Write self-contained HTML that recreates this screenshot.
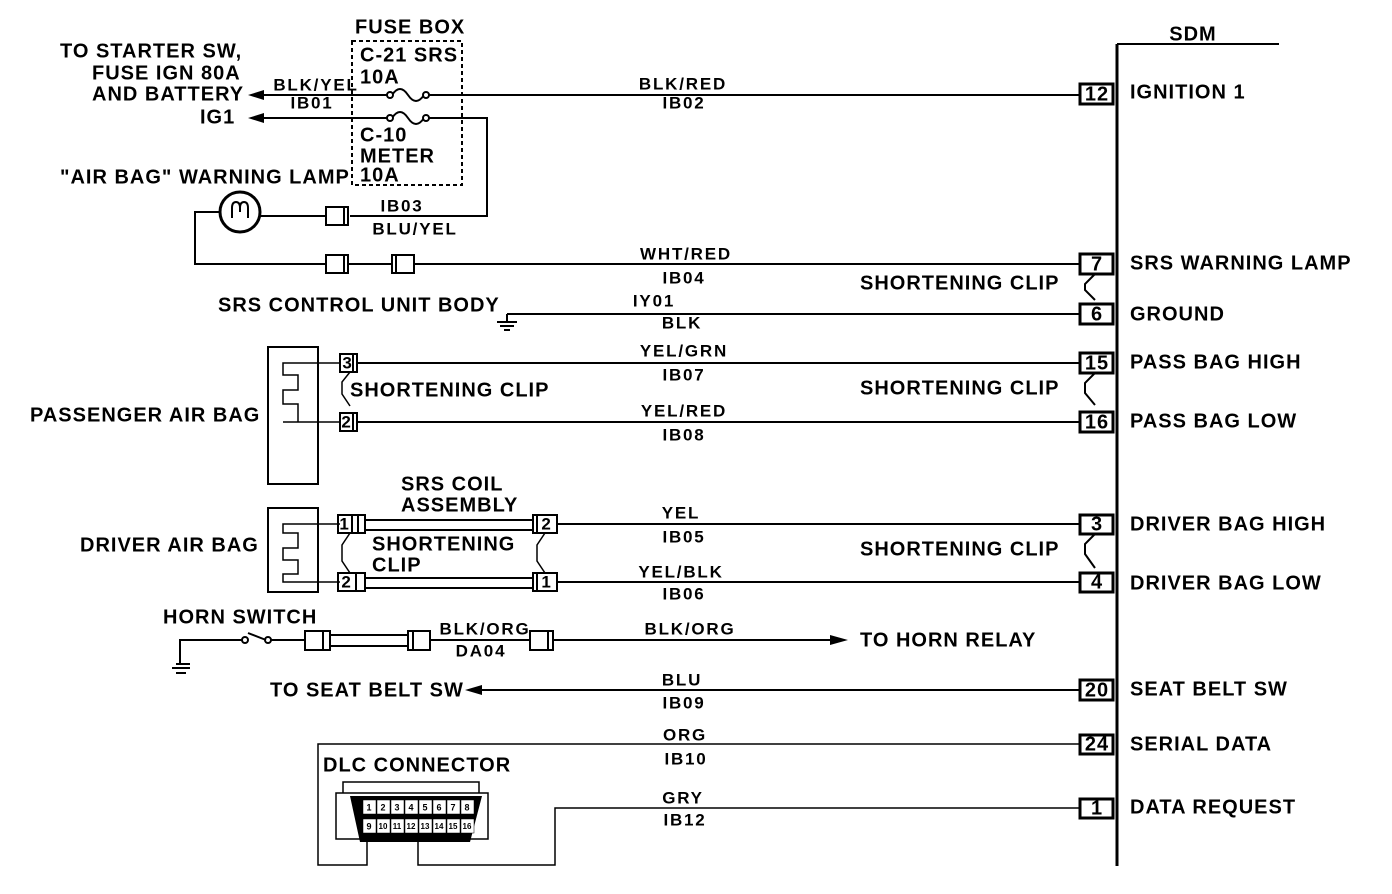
<!DOCTYPE html>
<html><head><meta charset="utf-8"><style>
html,body{margin:0;padding:0;background:#fff}
svg{display:block}
text{font-family:"Liberation Sans",Arial,sans-serif;font-weight:bold;font-size:20px;letter-spacing:1px;fill:#000;dominant-baseline:middle}
.s{font-size:17px;letter-spacing:1.8px}
.e{text-anchor:end}
.m{text-anchor:middle}
.p{font-size:9px;letter-spacing:0}
.q{font-size:8px;letter-spacing:0}
</style></head><body>
<svg width="1392" height="894" viewBox="0 0 1392 894" xmlns="http://www.w3.org/2000/svg">
<g stroke="#000" stroke-width="2" fill="none">
<line x1="1117" y1="44" x2="1117" y2="866" stroke-width="3"/>
<line x1="1117" y1="44" x2="1279" y2="44"/>
<rect x="352" y="41" width="110" height="144" stroke-dasharray="4,3"/>
<line x1="262" y1="95" x2="388" y2="95"/>
<path d="M392 95 q8 -12 16 0 q8 12 16 0"/>
<line x1="428" y1="95" x2="1080" y2="95"/>
<circle cx="390" cy="95" r="3" fill="#fff"/><circle cx="426" cy="95" r="3" fill="#fff"/>
<line x1="262" y1="118" x2="388" y2="118"/>
<path d="M392 118 q8 -12 16 0 q8 12 16 0"/>
<circle cx="390" cy="118" r="3" fill="#fff"/><circle cx="426" cy="118" r="3" fill="#fff"/>
<polyline points="428,118 487,118 487,216 350,216"/>
<rect x="326" y="207" width="22" height="18"/><line x1="344" y1="207" x2="344" y2="225"/>
<line x1="326" y1="216" x2="260" y2="216"/>
<circle cx="240" cy="212" r="20" stroke-width="3"/>
<path d="M232 218 v-10 q0 -6 4 -6 q4 0 4 6 v4 M240 212 v-4 q0 -6 4 -6 q4 0 4 6 v10"/>
<polyline points="220,212 195,212 195,264 326,264"/>
<rect x="326" y="255" width="22" height="18"/><line x1="344" y1="255" x2="344" y2="273"/>
<line x1="348" y1="264" x2="392" y2="264"/>
<rect x="392" y="255" width="22" height="18"/><line x1="396" y1="255" x2="396" y2="273"/>
<line x1="414" y1="264" x2="1080" y2="264"/>
<g stroke-width="3">
<rect x="1080" y="84" width="33" height="20"/>
<rect x="1080" y="254" width="33" height="20"/>
<rect x="1080" y="304" width="33" height="20"/>
<rect x="1080" y="353" width="33" height="20"/>
<rect x="1080" y="412" width="33" height="20"/>
<rect x="1080" y="515" width="33" height="19"/>
<rect x="1080" y="573" width="33" height="19"/>
<rect x="1080" y="680" width="33" height="20"/>
<rect x="1080" y="735" width="33" height="19"/>
<rect x="1080" y="799" width="33" height="19"/>
</g>
<path d="M1095 274 l-10 10 v6 l10 10"/>
<path d="M1095 373 l-10 10 v10 l10 12"/>
<path d="M1095 534 l-10 10 v10 l10 14"/>
<line x1="507" y1="314" x2="1080" y2="314"/>
<line x1="507" y1="314" x2="507" y2="322"/>
<line x1="497" y1="322" x2="517" y2="322"/><line x1="500" y1="326" x2="514" y2="326"/><line x1="504" y1="330" x2="510" y2="330"/>
<rect x="268" y="347" width="50" height="137"/>
<polyline points="340,363 283,363 283,375 298,375 298,390 283,390 283,404 298,404 298,422 283,422 340,422" stroke-width="1.5"/>
<rect x="340" y="354" width="17" height="18"/><line x1="353" y1="354" x2="353" y2="372"/>
<rect x="340" y="413" width="17" height="18"/><line x1="353" y1="413" x2="353" y2="431"/>
<line x1="357" y1="363" x2="1080" y2="363"/>
<line x1="357" y1="422" x2="1080" y2="422"/>
<path d="M350 372 l-8 10 v12 l8 12" stroke-width="1.5"/>
<rect x="268" y="508" width="50" height="84"/>
<polyline points="340,524 283,524 283,533 298,533 298,548 283,548 283,560 298,560 298,574 283,574 283,582 340,582" stroke-width="1.5"/>
<rect x="338" y="515" width="27" height="18"/><line x1="352" y1="515" x2="352" y2="533"/><line x1="358" y1="515" x2="358" y2="533"/>
<rect x="338" y="573" width="27" height="18"/><line x1="356" y1="573" x2="356" y2="591"/>
<line x1="365" y1="520" x2="533" y2="520"/><line x1="365" y1="530" x2="533" y2="530"/>
<line x1="365" y1="578" x2="533" y2="578"/><line x1="365" y1="588" x2="533" y2="588"/>
<rect x="533" y="515" width="24" height="18"/><line x1="537" y1="515" x2="537" y2="533"/>
<rect x="533" y="573" width="24" height="18"/><line x1="537" y1="573" x2="537" y2="591"/>
<line x1="557" y1="524" x2="1080" y2="524"/>
<line x1="557" y1="582" x2="1080" y2="582"/>
<path d="M350 533 l-8 12 v16 l8 12" stroke-width="1.5"/>
<path d="M545 533 l-8 12 v16 l8 12" stroke-width="1.5"/>
<polyline points="180,664 180,640 242,640"/>
<line x1="176" y1="664" x2="190" y2="664"/><line x1="172" y1="668" x2="190" y2="668"/><line x1="176" y1="673" x2="186" y2="673"/>
<circle cx="245" cy="640" r="3" fill="#fff"/><circle cx="268" cy="640" r="3" fill="#fff"/>
<line x1="248" y1="633" x2="266" y2="640"/>
<line x1="271" y1="640" x2="305" y2="640"/>
<rect x="305" y="631" width="25" height="19"/><line x1="323" y1="631" x2="323" y2="650"/>
<line x1="330" y1="635" x2="408" y2="635"/><line x1="330" y1="646" x2="408" y2="646"/>
<rect x="408" y="631" width="22" height="19"/><line x1="413" y1="631" x2="413" y2="650"/>
<line x1="430" y1="640" x2="530" y2="640"/>
<rect x="530" y="631" width="23" height="19"/><line x1="548" y1="631" x2="548" y2="650"/>
<line x1="553" y1="640" x2="832" y2="640"/>
<line x1="478" y1="690" x2="1080" y2="690"/>
<polyline points="1080,744 318,744 318,865 367,865 367,820" stroke-width="1.5"/>
<polyline points="1080,808 555,808 555,865 418,865 418,820" stroke-width="1.5"/>
</g>
<g fill="#000">
<polygon points="248,95 264,90 264,100"/>
<polygon points="248,118 264,113 264,123"/>
<polygon points="848,640 830,635 830,645"/>
<polygon points="465,690 482,685 482,695"/>
</g>
<g stroke="#000" stroke-width="1.5" fill="#fff">
<rect x="343" y="782" width="136" height="12"/>
<rect x="336" y="793" width="152" height="46"/>
</g>
<polygon points="350,796 482,796 470,842 360,842" fill="#000"/>
<g fill="#fff" stroke="#000" stroke-width="0.5">
<rect x="363" y="800" width="13" height="14"/><rect x="377" y="800" width="13" height="14"/><rect x="391" y="800" width="13" height="14"/><rect x="405" y="800" width="13" height="14"/><rect x="419" y="800" width="13" height="14"/><rect x="433" y="800" width="13" height="14"/><rect x="447" y="800" width="13" height="14"/><rect x="461" y="800" width="13" height="14"/>
<rect x="363" y="819" width="13" height="14"/><rect x="377" y="819" width="13" height="14"/><rect x="391" y="819" width="13" height="14"/><rect x="405" y="819" width="13" height="14"/><rect x="419" y="819" width="13" height="14"/><rect x="433" y="819" width="13" height="14"/><rect x="447" y="819" width="13" height="14"/><rect x="461" y="819" width="13" height="14"/>
</g>
<text x="369" y="808" class="m p">1</text><text x="383" y="808" class="m p">2</text><text x="397" y="808" class="m p">3</text><text x="411" y="808" class="m p">4</text><text x="425" y="808" class="m p">5</text><text x="439" y="808" class="m p">6</text><text x="453" y="808" class="m p">7</text><text x="467" y="808" class="m p">8</text>
<text x="369" y="827" class="m p">9</text><text x="383" y="827" class="m q">10</text><text x="397" y="827" class="m q">11</text><text x="411" y="827" class="m q">12</text><text x="425" y="827" class="m q">13</text><text x="439" y="827" class="m q">14</text><text x="453" y="827" class="m q">15</text><text x="467" y="827" class="m q">16</text>
<text x="60" y="52">TO STARTER SW,</text>
<text x="92" y="74">FUSE IGN 80A</text>
<text x="92" y="95">AND BATTERY</text>
<text x="200" y="118">IG1</text>
<text x="355" y="28">FUSE BOX</text>
<text x="360" y="56">C-21  SRS</text>
<text x="360" y="78">10A</text>
<text x="360" y="136">C-10</text>
<text x="360" y="157">METER</text>
<text x="360" y="176">10A</text>
<text x="60" y="178">"AIR BAG" WARNING LAMP</text>
<text x="316" y="86" class="m s">BLK/YEL</text>
<text x="312" y="104" class="m s">IB01</text>
<text x="683" y="85" class="m s">BLK/RED</text>
<text x="684" y="104" class="m s">IB02</text>
<text x="402" y="207" class="m s">IB03</text>
<text x="415" y="230" class="m s">BLU/YEL</text>
<text x="686" y="255" class="m s">WHT/RED</text>
<text x="684" y="279" class="m s">IB04</text>
<text x="218" y="306">SRS CONTROL UNIT BODY</text>
<text x="654" y="302" class="m s">IY01</text>
<text x="682" y="324" class="m s">BLK</text>
<text x="684" y="352" class="m s">YEL/GRN</text>
<text x="684" y="376" class="m s">IB07</text>
<text x="684" y="412" class="m s">YEL/RED</text>
<text x="684" y="436" class="m s">IB08</text>
<text x="681" y="514" class="m s">YEL</text>
<text x="684" y="538" class="m s">IB05</text>
<text x="681" y="573" class="m s">YEL/BLK</text>
<text x="684" y="595" class="m s">IB06</text>
<text x="485" y="630" class="m s">BLK/ORG</text>
<text x="481" y="652" class="m s">DA04</text>
<text x="690" y="630" class="m s">BLK/ORG</text>
<text x="682" y="681" class="m s">BLU</text>
<text x="684" y="704" class="m s">IB09</text>
<text x="685" y="736" class="m s">ORG</text>
<text x="686" y="760" class="m s">IB10</text>
<text x="683" y="799" class="m s">GRY</text>
<text x="685" y="821" class="m s">IB12</text>
<text x="860" y="284">SHORTENING CLIP</text>
<text x="350" y="391">SHORTENING CLIP</text>
<text x="860" y="389">SHORTENING CLIP</text>
<text x="30" y="416">PASSENGER AIR BAG</text>
<text x="401" y="485">SRS COIL</text>
<text x="401" y="506">ASSEMBLY</text>
<text x="372" y="545">SHORTENING</text>
<text x="372" y="566">CLIP</text>
<text x="860" y="550">SHORTENING CLIP</text>
<text x="80" y="546">DRIVER AIR BAG</text>
<text x="163" y="618">HORN SWITCH</text>
<text x="860" y="641">TO HORN RELAY</text>
<text x="270" y="691">TO SEAT BELT SW</text>
<text x="323" y="766">DLC CONNECTOR</text>
<text x="1193" y="35" class="m">SDM</text>
<text x="1097" y="95" class="m">12</text>
<text x="1097" y="265" class="m">7</text>
<text x="1097" y="315" class="m">6</text>
<text x="1097" y="364" class="m">15</text>
<text x="1097" y="423" class="m">16</text>
<text x="1097" y="525" class="m">3</text>
<text x="1097" y="583" class="m">4</text>
<text x="1097" y="691" class="m">20</text>
<text x="1097" y="745" class="m">24</text>
<text x="1097" y="809" class="m">1</text>
<text x="348" y="364" class="m s">3</text>
<text x="347" y="423" class="m s">2</text>
<text x="345" y="525" class="m s">1</text>
<text x="347" y="583" class="m s">2</text>
<text x="547" y="525" class="m s">2</text>
<text x="547" y="583" class="m s">1</text>
<text x="1130" y="93">IGNITION 1</text>
<text x="1130" y="264">SRS WARNING LAMP</text>
<text x="1130" y="315">GROUND</text>
<text x="1130" y="363">PASS BAG HIGH</text>
<text x="1130" y="422">PASS BAG LOW</text>
<text x="1130" y="525">DRIVER BAG HIGH</text>
<text x="1130" y="584">DRIVER BAG LOW</text>
<text x="1130" y="690">SEAT BELT SW</text>
<text x="1130" y="745">SERIAL DATA</text>
<text x="1130" y="808">DATA REQUEST</text>
</svg>
</body></html>
